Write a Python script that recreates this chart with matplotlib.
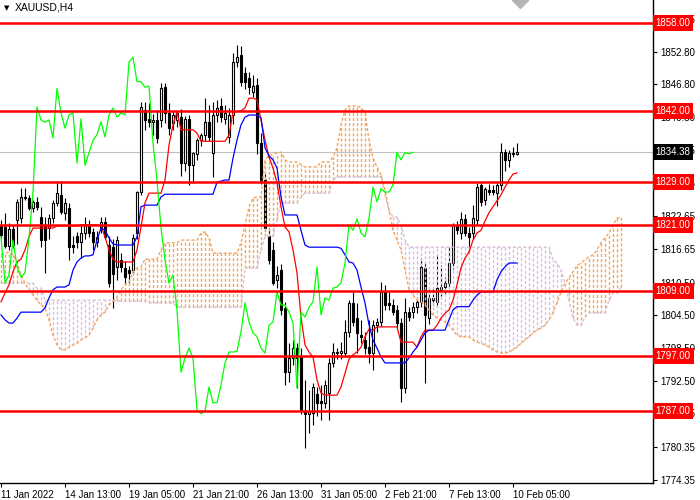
import numpy as np
import matplotlib
matplotlib.use("Agg")
import matplotlib.pyplot as plt
import matplotlib.transforms as mtransforms

plt.rcParams["font.family"] = ["Liberation Sans", "DejaVu Sans"]

# XAUUSD H4 candles, 10 Jan 21:00 .. 10 Feb 09:00 (one entry per bar)
opens = [1821.1, 1820.7, 1817.2, 1820.3, 1822.0, 1822.3, 1826.2, 1826.0, 1824.2, 1825.3,
         1822.5, 1821.1, 1820.5, 1822.3, 1825.1, 1826.6, 1823.3, 1824.2, 1817.4, 1819.0,
         1818.0, 1819.6, 1821.1, 1819.8, 1818.0, 1820.5, 1821.6, 1817.4, 1817.0, 1813.4,
         1814.7, 1813.2, 1812.8, 1812.8, 1819.6, 1827.1, 1842.1, 1840.5, 1839.9, 1840.3,
         1840.3, 1846.3, 1841.6, 1839.7, 1840.3, 1840.8, 1832.4, 1840.5, 1832.0, 1834.0,
         1836.6, 1837.6, 1840.0, 1834.3, 1841.2, 1842.8, 1840.5, 1837.2, 1841.2, 1850.9,
         1852.2, 1848.9, 1848.0, 1845.5, 1846.7, 1836.1, 1829.3, 1819.0, 1816.5, 1811.0,
         1812.8, 1805.9, 1794.1, 1796.7, 1798.5, 1796.9, 1787.0, 1786.5, 1786.6, 1790.1,
         1788.8, 1788.5, 1790.3, 1795.8, 1797.6, 1797.6, 1797.6, 1801.5, 1806.8, 1804.0,
         1800.9, 1800.0, 1798.7, 1797.6, 1802.7, 1803.3, 1808.8, 1806.8, 1806.4, 1805.5,
         1803.1, 1791.2, 1805.1, 1805.1, 1806.0, 1807.0, 1813.2, 1804.0, 1807.7, 1807.0,
         1809.2, 1809.7, 1810.4, 1814.1, 1821.1, 1819.6, 1822.2, 1819.6, 1819.6, 1822.0,
         1828.4, 1825.6, 1827.5, 1827.5, 1826.9, 1828.4, 1834.4, 1833.0, 1834.3, 1834.1]
highs = [1822.0, 1823.3, 1821.5, 1821.0, 1825.8, 1827.8, 1827.8, 1826.6, 1825.6, 1826.2,
         1824.4, 1822.5, 1823.0, 1825.6, 1828.8, 1829.1, 1826.0, 1825.0, 1819.0, 1819.8,
         1821.0, 1822.5, 1822.0, 1820.5, 1820.0, 1822.5, 1822.5, 1819.0, 1818.5, 1819.0,
         1816.0, 1814.5, 1813.5, 1819.5, 1827.3, 1843.6, 1843.6, 1843.4, 1841.4, 1842.1,
         1847.0, 1847.0, 1843.4, 1842.0, 1842.0, 1842.3, 1841.0, 1841.2, 1834.5, 1837.0,
         1838.0, 1844.3, 1843.0, 1843.6, 1844.0, 1844.3, 1843.0, 1842.5, 1852.5, 1854.0,
         1853.9, 1850.0, 1849.0, 1848.5, 1848.0, 1838.0, 1830.5, 1820.5, 1818.0, 1813.5,
         1814.0, 1807.0, 1799.5, 1800.0, 1799.5, 1798.5, 1792.7, 1790.8, 1792.1, 1791.4,
         1791.8, 1792.7, 1796.7, 1799.5, 1798.5, 1799.6, 1803.7, 1807.3, 1808.8, 1806.8,
         1803.7, 1801.5, 1803.7, 1803.7, 1804.0, 1810.6, 1810.0, 1808.8, 1807.5, 1806.5,
         1804.0, 1807.7, 1806.0, 1807.0, 1807.8, 1815.0, 1814.3, 1809.5, 1809.7, 1815.5,
         1813.7, 1811.5, 1817.0, 1821.5, 1821.8, 1823.5, 1823.0, 1820.7, 1824.7, 1828.8,
         1828.8, 1828.0, 1828.5, 1828.4, 1828.9, 1836.1, 1835.0, 1834.8, 1835.3, 1836.1]
lows = [1818.7, 1816.8, 1816.5, 1816.8, 1817.5, 1821.5, 1825.6, 1823.8, 1823.5, 1823.8,
        1817.0, 1812.3, 1818.5, 1821.5, 1824.5, 1823.0, 1822.0, 1814.7, 1816.0, 1816.8,
        1815.0, 1818.5, 1818.9, 1816.5, 1817.0, 1819.6, 1818.5, 1809.7, 1805.9, 1811.0,
        1812.5, 1810.5, 1810.0, 1812.0, 1818.5, 1826.5, 1838.5, 1839.0, 1837.6, 1836.1,
        1839.0, 1839.7, 1837.5, 1838.5, 1839.0, 1830.0, 1831.0, 1828.4, 1828.8, 1833.0,
        1835.5, 1836.5, 1836.5, 1829.9, 1840.0, 1840.0, 1839.5, 1836.0, 1839.5, 1850.0,
        1846.5, 1846.0, 1845.0, 1844.5, 1834.0, 1828.5, 1820.0, 1814.0, 1810.0, 1809.5,
        1804.5, 1791.8, 1792.3, 1795.5, 1791.2, 1786.5, 1780.2, 1783.0, 1784.5, 1786.0,
        1785.3, 1787.5, 1785.3, 1795.0, 1796.5, 1796.5, 1796.8, 1800.5, 1802.5, 1797.6,
        1799.5, 1797.5, 1795.8, 1794.5, 1801.5, 1802.5, 1805.5, 1805.5, 1804.5, 1802.0,
        1788.6, 1790.3, 1803.5, 1804.0, 1805.0, 1806.0, 1792.1, 1803.0, 1806.5, 1806.0,
        1808.0, 1808.5, 1809.5, 1813.0, 1819.5, 1818.5, 1819.0, 1815.9, 1818.5, 1821.0,
        1824.5, 1824.7, 1826.5, 1826.5, 1824.5, 1827.5, 1831.0, 1831.7, 1833.5, 1833.9]
closes = [1819.2, 1817.2, 1820.3, 1817.4, 1825.3, 1826.2, 1826.0, 1824.2, 1825.3, 1824.4,
          1818.3, 1818.3, 1822.3, 1825.1, 1826.9, 1823.4, 1825.1, 1817.0, 1817.0, 1818.0,
          1819.6, 1821.1, 1819.6, 1818.0, 1818.9, 1821.6, 1818.9, 1810.4, 1812.0, 1818.3,
          1813.4, 1811.5, 1812.3, 1818.7, 1827.1, 1842.7, 1840.3, 1839.9, 1840.3, 1837.0,
          1846.1, 1841.6, 1838.8, 1841.2, 1841.6, 1832.4, 1840.5, 1832.0, 1834.3, 1836.6,
          1837.6, 1840.0, 1837.2, 1841.2, 1842.5, 1840.8, 1841.6, 1841.2, 1850.9, 1851.8,
          1847.3, 1847.3, 1846.3, 1846.5, 1836.1, 1829.3, 1820.5, 1814.7, 1810.4, 1811.9,
          1805.5, 1794.1, 1796.7, 1798.5, 1796.7, 1787.2, 1786.5, 1787.0, 1791.4, 1788.5,
          1788.5, 1791.8, 1795.8, 1797.8, 1797.8, 1797.9, 1801.5, 1806.8, 1803.3, 1801.3,
          1800.6, 1798.5, 1797.6, 1802.7, 1803.3, 1808.8, 1806.4, 1806.4, 1805.1, 1803.1,
          1791.2, 1805.1, 1804.2, 1806.0, 1807.0, 1813.4, 1804.6, 1807.7, 1807.3, 1809.5,
          1809.7, 1810.5, 1814.1, 1821.1, 1820.1, 1822.2, 1819.6, 1818.9, 1822.3, 1828.0,
          1825.3, 1827.7, 1827.1, 1827.1, 1828.4, 1834.4, 1833.0, 1834.3, 1834.1, 1834.38]

# Ichimoku lines
tenkan = [1807.0, 1808.6, 1810.1, 1812.5, 1814.3, 1814.8, 1816.5, 1818.9, 1820.5, 1820.5,
          1820.5, 1820.5, 1820.5, 1820.5, 1820.9, 1820.9, 1820.9, 1820.9, 1820.9, 1820.9,
          1821.1, 1821.1, 1821.1, 1821.1, 1821.1, 1820.9, 1818.9, 1816.5, 1814.8, 1814.3,
          1814.3, 1814.3, 1814.3, 1814.3, 1816.5, 1820.7, 1825.1, 1826.9, 1826.9, 1826.9,
          1826.9, 1829.3, 1835.7, 1839.4, 1841.8, 1838.5, 1838.5, 1838.5, 1838.5, 1837.9,
          1836.4, 1836.4, 1836.4, 1836.4, 1836.4, 1836.4, 1836.4, 1837.5, 1841.8, 1841.8,
          1842.0, 1842.5, 1844.3, 1844.3, 1844.0, 1840.3, 1836.6, 1833.5, 1831.5, 1828.8,
          1824.4, 1820.7, 1819.8, 1816.5, 1812.3, 1804.2, 1799.1, 1797.8, 1796.9, 1792.7,
          1790.3, 1789.9, 1789.9, 1789.9, 1789.9, 1791.4, 1793.9, 1796.5, 1797.3, 1797.8,
          1798.7, 1800.6, 1802.0, 1801.8, 1802.4, 1802.4, 1802.4, 1802.4, 1802.4, 1802.4,
          1799.6, 1799.6, 1799.6, 1799.6, 1798.7, 1800.6, 1801.8, 1801.8, 1801.8, 1802.7,
          1804.0, 1804.9, 1805.5, 1807.3, 1810.1, 1813.2, 1815.0, 1816.1, 1818.3, 1819.6,
          1820.1, 1821.8, 1823.3, 1824.4, 1825.5, 1826.6, 1828.0, 1829.3, 1830.4, 1830.6]
kijun = [1804.6, 1803.7, 1803.1, 1803.1, 1804.0, 1805.1, 1805.1, 1805.1, 1805.1, 1805.1,
         1805.1, 1805.9, 1807.7, 1809.2, 1809.7, 1809.7, 1809.7, 1810.1, 1812.8, 1814.3,
         1815.0, 1815.4, 1815.4, 1815.6, 1818.3, 1820.5, 1820.1, 1818.7, 1817.6, 1817.4,
         1817.4, 1817.4, 1817.4, 1817.4, 1818.9, 1824.4, 1824.7, 1824.7, 1824.7, 1824.7,
         1826.2, 1826.7, 1826.7, 1826.7, 1826.7, 1826.7, 1826.7, 1826.7, 1826.7, 1826.7,
         1826.7, 1826.7, 1826.7, 1826.7, 1828.9, 1829.1, 1829.3, 1829.3, 1833.3, 1836.6,
         1839.4, 1840.8, 1841.2, 1841.2, 1841.2, 1840.7, 1835.2, 1833.7, 1833.0, 1831.5,
         1826.2, 1822.9, 1822.9, 1822.9, 1822.9, 1820.1, 1817.4, 1817.0, 1817.0, 1817.0,
         1817.0, 1817.0, 1817.0, 1817.0, 1817.0, 1816.8, 1815.6, 1814.3, 1814.1, 1812.8,
         1809.7, 1806.8, 1802.8, 1800.0, 1798.5, 1796.9, 1795.8, 1795.8, 1795.8, 1795.8,
         1795.8, 1795.8, 1796.7, 1797.8, 1798.7, 1800.0, 1801.3, 1801.8, 1801.8, 1801.8,
         1801.8, 1801.8, 1803.7, 1805.5, 1806.1, 1806.1, 1806.1, 1806.1, 1807.3, 1808.2,
         1808.8, 1808.8, 1808.8, 1808.8, 1811.0, 1812.5, 1813.4, 1814.1, 1814.1, 1814.1]
span_a = [1815.6, 1815.9, 1816.1, 1815.6, 1814.3, 1811.9, 1810.4, 1809.2, 1808.2, 1807.3,
          1806.4, 1805.9, 1803.7, 1800.9, 1799.1, 1798.2, 1798.2, 1798.7, 1799.1, 1799.4,
          1800.0, 1800.4, 1800.9, 1802.2, 1803.7, 1804.6, 1805.1, 1806.4, 1807.1, 1807.9,
          1809.2, 1810.1, 1810.6, 1812.5, 1813.2, 1813.4, 1814.8, 1814.8, 1814.8, 1814.8,
          1816.5, 1817.8, 1817.8, 1817.8, 1817.8, 1818.3, 1818.3, 1818.3, 1818.3, 1818.3,
          1819.6, 1819.8, 1818.7, 1815.9, 1815.9, 1815.9, 1815.9, 1815.9, 1815.9, 1815.9,
          1817.8, 1821.1, 1824.4, 1826.0, 1826.2, 1826.2, 1833.0, 1833.9, 1833.9, 1834.3,
          1834.4, 1833.0, 1832.6, 1832.6, 1832.6, 1832.1, 1831.7, 1831.7, 1831.7, 1831.7,
          1832.6, 1832.6, 1832.6, 1833.5, 1835.2, 1839.4, 1842.1, 1842.9, 1842.9, 1842.9,
          1842.5, 1841.8, 1836.6, 1833.3, 1831.7, 1830.2, 1827.5, 1823.8, 1820.1, 1818.3,
          1816.5, 1812.8, 1809.2, 1808.2, 1807.3, 1807.0, 1806.4, 1805.5, 1804.6, 1804.0,
          1803.7, 1803.3, 1802.7, 1801.8, 1800.9, 1800.6, 1800.6, 1800.6, 1800.0, 1799.6,
          1799.4, 1799.1, 1798.7, 1798.2, 1797.8, 1797.6, 1797.6, 1797.8, 1798.2, 1798.7,
          1799.4, 1800.0, 1800.6, 1801.3, 1801.8, 1802.2, 1802.7, 1803.7, 1805.0, 1806.8,
          1808.8, 1810.4, 1811.4, 1812.5, 1813.6, 1814.1, 1814.7, 1815.2, 1815.6, 1816.5,
          1817.8, 1818.7, 1819.6, 1821.1, 1822.3, 1822.5]
span_b = [1810.4, 1810.4, 1810.4, 1810.4, 1810.4, 1810.4, 1810.4, 1810.4, 1810.4, 1809.5,
          1809.5, 1807.3, 1807.3, 1807.3, 1807.3, 1807.3, 1807.3, 1807.3, 1807.3, 1807.3,
          1807.3, 1807.3, 1807.3, 1807.3, 1807.3, 1807.3, 1807.3, 1807.3, 1807.3, 1807.1,
          1807.1, 1807.1, 1807.1, 1807.1, 1807.1, 1807.1, 1807.1, 1806.8, 1806.8, 1806.8,
          1806.8, 1806.8, 1806.8, 1806.8, 1806.0, 1806.0, 1806.0, 1806.0, 1806.0, 1806.0,
          1806.0, 1806.0, 1806.0, 1806.0, 1806.0, 1806.0, 1806.0, 1806.0, 1806.0, 1806.0,
          1806.0, 1813.2, 1813.2, 1813.2, 1813.2, 1816.5, 1819.0, 1819.0, 1819.0, 1822.0,
          1825.1, 1825.1, 1825.1, 1825.1, 1825.1, 1826.2, 1826.9, 1826.9, 1826.9, 1826.9,
          1826.9, 1826.9, 1826.9, 1829.3, 1829.9, 1829.9, 1829.9, 1829.9, 1829.9, 1829.9,
          1829.9, 1829.9, 1829.9, 1829.9, 1829.9, 1829.9, 1826.6, 1823.8, 1822.5, 1822.5,
          1821.1, 1818.3, 1817.0, 1817.0, 1817.0, 1817.0, 1817.0, 1817.0, 1817.0, 1817.0,
          1817.0, 1817.0, 1817.0, 1817.0, 1817.0, 1817.0, 1817.0, 1817.0, 1817.0, 1817.0,
          1817.0, 1817.0, 1817.0, 1817.0, 1817.0, 1817.0, 1817.0, 1817.0, 1817.0, 1817.0,
          1817.0, 1817.0, 1817.0, 1817.0, 1817.0, 1817.0, 1817.0, 1817.0, 1814.7, 1814.1,
          1812.8, 1810.4, 1807.3, 1804.0, 1802.7, 1802.7, 1804.2, 1805.0, 1805.0, 1805.0,
          1805.0, 1805.0, 1807.3, 1808.6, 1808.6, 1809.7]

chikou_shift = 26
levels = [1858.00, 1842.00, 1829.00, 1821.00, 1809.00, 1797.00, 1787.00]
last_price = 1834.38

ytick_vals = [1774.35, 1780.35, 1786.55, 1792.50, 1798.50, 1804.50, 1810.50, 1816.65,
              1822.65, 1828.75, 1834.75, 1840.80, 1846.80, 1852.80, 1858.85]
xtick_bars = [0, 16, 32, 48, 64, 80, 96, 112, 128]
xtick_labels = ["11 Jan 2022", "14 Jan 13:00", "19 Jan 05:00", "21 Jan 21:00", "26 Jan 13:00",
                "31 Jan 05:00", "2 Feb 21:00", "7 Feb 13:00", "10 Feb 05:00"]

fig = plt.figure(figsize=(7, 5), dpi=100)
ax = fig.add_axes([0, 17 / 500, 653 / 700, 483 / 500])

o = np.array(opens)
h = np.array(highs)
l = np.array(lows)
c = np.array(closes)
x = np.arange(len(c))

# candles (chart drawn below indicators, like MT4 default)
ax.vlines(x, l, h, color="black", lw=0.8, zorder=2)
up = c >= o
body_h = np.abs(c - o)
body_b = np.minimum(c, o)
ax.bar(x[up], body_h[up], bottom=body_b[up], width=0.55, color="white",
       edgecolor="black", linewidth=0.8, zorder=3)
ax.bar(x[~up], body_h[~up], bottom=body_b[~up], width=0.55, color="black",
       edgecolor="black", linewidth=0.8, zorder=3)

# kumo, hatched with one dashed stroke per bar
sa = np.array(span_a)
sb = np.array(span_b)
xc = np.arange(len(sa))
bull = sa >= sb
ax.vlines(xc[bull], sb[bull], sa[bull], colors="#f4a460", lw=1.0,
          linestyles=(0, (2.2, 1.5)), zorder=4)
ax.vlines(xc[~bull], sa[~bull], sb[~bull], colors="#d8bfd8", lw=1.0,
          linestyles=(0, (2.2, 1.5)), zorder=4)
ax.plot(xc, sa, color="#f4a460", lw=1.0, ls=(0, (2.2, 1.5)), zorder=4.2)
ax.plot(xc, sb, color="#d8bfd8", lw=1.0, ls=(0, (2.2, 1.5)), zorder=4.1)

ax.axhline(last_price, color="#c0c0c0", lw=0.8, zorder=1.5)

# tenkan / kijun / chikou
ax.plot(x, tenkan, color="red", lw=0.9, zorder=5)
ax.plot(x, kijun, color="blue", lw=0.9, zorder=5)
ax.plot(x[chikou_shift:] - chikou_shift, c[chikou_shift:], color="#00ff00", lw=0.9, zorder=5)

for lv in levels:
  ax.axhline(lv, color="red", lw=1.8, zorder=6)

ax.set_xlim(-0.25, 163.0)
ax.set_ylim(1773.81, 1862.27)

for s in ["left", "top"]:
  ax.spines[s].set_visible(False)
for s in ["right", "bottom"]:
  ax.spines[s].set_linewidth(1.0)

ax.yaxis.tick_right()
ax.set_yticks(ytick_vals)
ax.set_yticklabels(["%.2f" % v for v in ytick_vals])
ax.tick_params(axis="y", length=3, width=0.8, pad=2, labelsize=7)
ax.set_xticks(xtick_bars)
ax.set_xticklabels(xtick_labels)
ax.tick_params(axis="x", length=3, width=0.8, pad=2, labelsize=7)
for lab in ax.get_xticklabels():
  lab.set_ha("left")

# price tags on the right scale
tr = mtransforms.blended_transform_factory(ax.transAxes, ax.transData)
for lv in levels:
  ax.text(1.004, lv, "%.2f" % lv, transform=tr, ha="left", va="center", fontsize=7,
          color="white", clip_on=False, zorder=10,
          bbox=dict(boxstyle="square,pad=0.3", fc="red", ec="none"))
ax.text(1.004, last_price, "%.2f" % last_price, transform=tr, ha="left", va="center",
        fontsize=7, color="white", clip_on=False, zorder=10,
        bbox=dict(boxstyle="square,pad=0.3", fc="black", ec="none"))

fig.text(4 / 700, 1 - 8 / 500, "\u25bc", fontsize=5, va="center", family="DejaVu Sans")
fig.text(15 / 700, 1 - 8 / 500, "XAUUSD,H4", fontsize=7.5, va="center")
fig.lines.append(plt.Line2D([520 / 700], [1.0], marker="D", markersize=8, color="#b4b4b4",
                            transform=fig.transFigure, figure=fig))

fig.savefig("out.png", dpi=100)
